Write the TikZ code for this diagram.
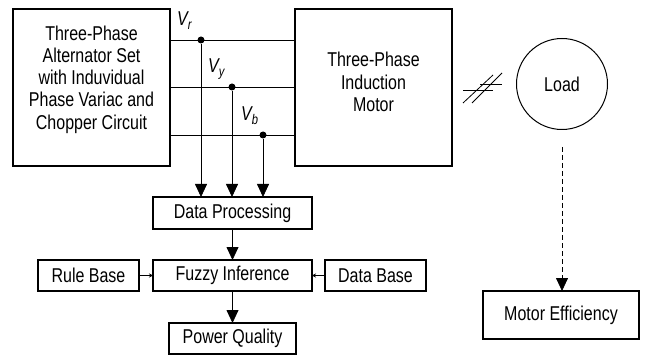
\documentclass[tikz,border=0pt]{standalone}
\usepackage{fontspec}
\setmainfont{Liberation Sans}[FakeStretch=0.8]
\usetikzlibrary{arrows.meta,positioning}

\begin{document}
\begin{tikzpicture}[
  x=1pt, y=-1pt,
  every node/.style={font=\fontsize{20}{22.3}\selectfont},
  box/.style={draw, line width=1.1pt, align=center, inner sep=0pt, outer sep=0pt},
  bigbox/.style={box, minimum width=157pt, minimum height=157pt},
  midbox/.style={box, minimum width=159pt, minimum height=31pt},
  sidebox/.style={box, minimum width=101pt, minimum height=31pt},
  dot/.style={circle, fill, inner sep=0pt, minimum size=7pt},
  vlab/.style={inner sep=0pt, anchor=base west, font=\fontsize{20}{20}\selectfont\itshape},
  wire/.style={line width=0.8pt},
  arr/.style={wire, -{Triangle[length=13pt, width=12pt]}},
  tinyarr/.style={wire, -{Stealth[length=4pt, width=4pt]}},
  dasharr/.style={arr, dash pattern=on 5pt off 3pt}
]
\useasboundingbox (0,0) rectangle (647,355);

% Top row: source, motor and load
\node[bigbox] (alt) at (91.5,87.5) {};
\node[align=center] (altText) at ([yshift=8pt]alt.center)
  {Three-Phase\\Alternator Set\\with Induvidual\\Phase Variac and\\Chopper Circuit};
\node[bigbox, right=125pt of alt] (mot) {};
\node[align=center] (motText) at ([yshift=5.5pt]mot.center)
  {Three-Phase\\Induction\\Motor};
\node[circle, draw, line width=1pt, minimum size=91pt, inner sep=0pt] (load) at (562,84) {Load\hspace{18pt}};

% Phase taps
\node[dot] (dr) at (201,40) {};
\node[dot] (dy) at (232,87) {};
\node[dot] (db) at (263,135) {};
\node[vlab] (vr) at ([shift={(-24pt,14pt)}]dr.center) {V\textsubscript{r}};
\node[vlab] (vy) at ([shift={(-24pt,14pt)}]dy.center) {V\textsubscript{y}};
\node[vlab] (vb) at ([shift={(-22pt,14pt)}]db.center) {V\textsubscript{b}};

% Bottom: fuzzy block
\node[box, minimum width=159pt, minimum height=32pt] (dp) at (232.5,213) {Data Processing};
\node[midbox, below=31pt of dp] (fi) {Fuzzy Inference};
\node[sidebox, left=14pt of fi]  (rb)    {Rule Base};
\node[sidebox, right=13pt of fi] (dbase) {Data Base};
\node[box, minimum width=127pt, minimum height=31pt, below=32pt of fi] (pq) {Power Quality};
\node[box, minimum width=156pt, minimum height=48pt] (eff) at (561,315) {Motor Efficiency};

% Supply lines
\draw[wire] (alt.east |- dr) -- (mot.west |- dr);
\draw[wire] (alt.east |- dy) -- (mot.west |- dy);
\draw[wire] (alt.east |- db) -- (mot.west |- db);

% Measurement arrows
\draw[arr] (dr) -- (dr |- dp.north);
\draw[arr] (dy) -- (dy |- dp.north);
\draw[arr] (db) -- (db |- dp.north);
\draw[arr] (dp) -- (fi);
\draw[arr] (fi) -- (pq);
\draw[tinyarr] (rb) -- (fi);
\draw[tinyarr] (dbase) -- (fi);
\draw[dasharr, shorten <=17pt] (load.south) -- (load.south |- eff.north);

% Shaft coupling
\draw[wire] (480,84) -- (502,84);
\draw[wire] (463,90) -- (493,90);
\draw[wire] (463,103) -- (493,75);
\draw[wire] (472,103) -- (502,73);
\end{tikzpicture}
\end{document}
